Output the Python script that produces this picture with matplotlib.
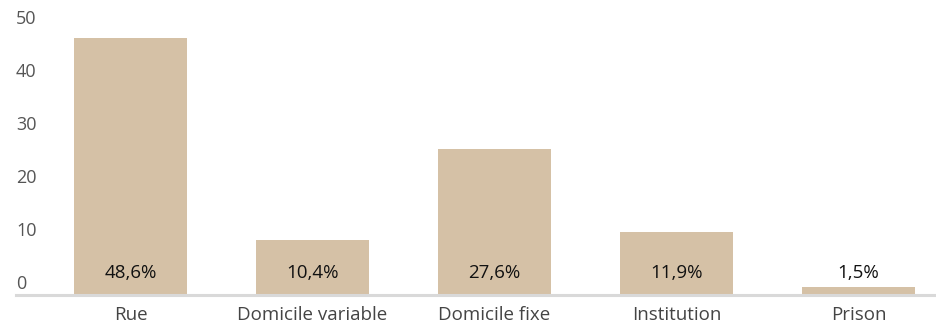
import matplotlib
matplotlib.use('Agg')
import matplotlib.pyplot as plt
import matplotlib.transforms as mtrans

plt.rcParams['font.family'] = ['Open Sans', 'DejaVu Sans']

# data
categories = ['Rue', 'Domicile variable', 'Domicile fixe', 'Institution', 'Prison']
values = [48.6, 10.4, 27.6, 11.9, 1.5]
labels = ['48,6%', '10,4%', '27,6%', '11,9%', '1,5%']
yticks = [0, 10, 20, 30, 40, 50]

bar_color = '#d5c1a6'

fig = plt.figure(figsize=(9.37, 3.24), dpi=100)
ax = fig.add_axes([16 / 937, 29 / 324, 921 / 937, 295 / 324])

x = list(range(len(categories)))
ax.bar(x, values, width=0.62, color=bar_color, zorder=2)

ax.set_xlim(-0.629, 4.431)
ax.set_ylim(0, 55.7)

for s in ['top', 'right', 'left']:
    ax.spines[s].set_visible(False)
ax.spines['bottom'].set_color('#d9d9d9')
ax.spines['bottom'].set_linewidth(2.2)
ax.spines['bottom'].set_zorder(3)

ax.set_yticks([])
ax.set_xticks([])

# y labels sit above their value
ylab_tr = mtrans.offset_copy(ax.get_yaxis_transform(), fig=fig, x=0, y=11, units='dots')
for v in yticks:
    ax.text(0, v, str(v), transform=ylab_tr, ha='left', va='center',
            fontsize=13, color='#555555')

# category labels under the axis
cat_tr = mtrans.offset_copy(ax.get_xaxis_transform(), fig=fig, x=0, y=-20, units='dots')
for i, c in enumerate(categories):
    ax.text(i, 0, c, transform=cat_tr, ha='center', va='center',
            fontsize=13.5, color='#444444')

# value labels near bar bottom
val_tr = mtrans.offset_copy(ax.transData, fig=fig, x=0, y=22, units='dots')
for i, l in enumerate(labels):
    ax.text(i, 0, l, transform=val_tr, ha='center', va='center',
            fontsize=13.5, color='#111111', zorder=4)

fig.savefig('out.png', dpi=100)
